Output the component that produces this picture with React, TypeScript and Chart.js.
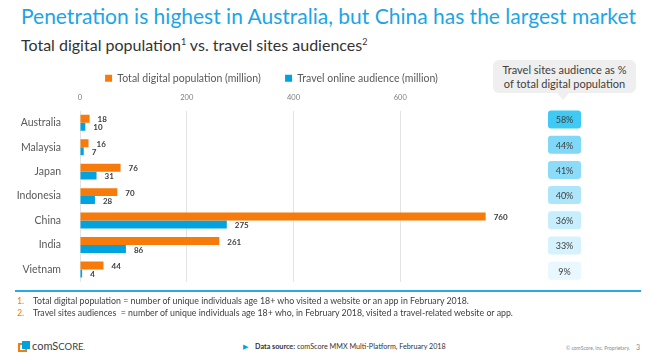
import React, { useEffect, useRef } from "react";
import { Chart, registerables } from "chart.js";

Chart.register(...registerables);

const countries = ["Australia", "Malaysia", "Japan", "Indonesia", "China", "India", "Vietnam"];
const totalDigital = [18, 16, 76, 70, 760, 261, 44];
const travelAudience = [10, 7, 31, 28, 275, 86, 4];
const penetrationLabels = ["58%", "44%", "41%", "40%", "36%", "33%", "9%"];
const penetrationColors = ["#3fcaf6", "#7fd8f8", "#8cdcf9", "#ade6fb", "#c6eefc", "#d6f2fd", "#e8f8fe"];
const xTickValues = [0, 200, 400, 600];

const FONT = "Lato, 'Liberation Sans', sans-serif";
const ORANGE = "#f77b0b";
const BLUE = "#00a2df";

const valueLabelPlugin = {
  id: "valueLabels",
  afterDatasetsDraw(chart: any) {
    const ctx = chart.ctx;
    ctx.save();
    ctx.font = `bold 8px ${FONT}`;
    ctx.fillStyle = "#404040";
    ctx.textBaseline = "middle";
    ctx.textAlign = "left";
    chart.data.datasets.forEach((ds: any, di: number) => {
      const meta = chart.getDatasetMeta(di);
      meta.data.forEach((bar: any, i: number) => {
        ctx.fillText(String(ds.data[i]), bar.x + 8, bar.y + 1);
      });
    });
    ctx.restore();
  },
};

const legendShiftPlugin = {
  id: "legendShift",
  afterLayout(chart: any) {
    if (chart.legend) {
      chart.legend.left -= 14;
      chart.legend.right -= 14;
      chart.legend.top += 8;
      chart.legend.bottom += 8;
    }
  },
};

const pctPlugin = {
  id: "pctBoxes",
  afterDraw(chart: any) {
    const ctx = chart.ctx;
    const yScale = chart.scales.y;
    ctx.save();
    penetrationLabels.forEach((lbl, i) => {
      const cy = yScale.getPixelForValue((i - 3) * 1.03 + 3) - 1;
      const x = 548, w = 33, h = 18;
      ctx.fillStyle = penetrationColors[i];
      ctx.beginPath();
      (ctx as any).roundRect(x, cy - h / 2, w, h, 3);
      ctx.fill();
      ctx.fillStyle = "#404040";
      ctx.font = `9px ${FONT}`;
      ctx.textAlign = "center";
      ctx.textBaseline = "middle";
      ctx.fillText(lbl, x + w / 2, cy + 1);
    });
    ctx.restore();
  },
};

function ChartView() {
  const ref = useRef<HTMLCanvasElement>(null);
  useEffect(() => {
    if (!ref.current) return;
    const chart = new Chart(ref.current, {
      type: "bar",
      data: {
        labels: countries,
        datasets: [
          {
            label: "Total digital population (million)",
            data: totalDigital,
            backgroundColor: ORANGE,
            barPercentage: 1,
            categoryPercentage: 0.65,
          },
          {
            label: "Travel online audience (million)",
            data: travelAudience,
            backgroundColor: BLUE,
            barPercentage: 1,
            categoryPercentage: 0.65,
          },
        ],
      },
      options: {
        indexAxis: "y",
        animation: false,
        responsive: false,
        maintainAspectRatio: false,
        layout: { padding: { left: 0, right: 160, top: 3, bottom: 2 } },
        plugins: {
          tooltip: { enabled: false },
          legend: {
            position: "top",
            fullSize: false,
            labels: {
              boxWidth: 7,
              boxHeight: 7,
              color: "#595959",
              font: { family: FONT, size: 10.5 },
              padding: 2,
              generateLabels(chart: any) {
                const items = Chart.defaults.plugins.legend.labels.generateLabels(chart);
                items.forEach((it: any, i: number) => {
                  if (i === 0) it.text = it.text + "\u2003\u2003\u2002\u2009";
                });
                return items;
              },
            },
          },
        },
        scales: {
          x: {
            position: "top",
            min: 0,
            max: 770,
            afterBuildTicks(scale: any) {
              scale.ticks = xTickValues.map((v) => ({ value: v }));
            },
            ticks: { color: "#7f7f7f", font: { family: FONT, size: 7.5 }, padding: 8 },
            grid: { color: "#e3e3e3", drawTicks: false },
            border: { display: false },
          },
          y: {
            afterFit(scale: any) {
              scale.width = 80;
            },
            ticks: { color: "#595959", font: { family: FONT, size: 10.5 }, padding: 11 },
            grid: { display: false },
            border: { display: false },
          },
        },
      },
      plugins: [valueLabelPlugin, pctPlugin, legendShiftPlugin],
    } as any);
    return () => chart.destroy();
  }, []);
  return <canvas ref={ref} width={651} height={239} style={{ position: "absolute", left: 0, top: 60, width: 651, height: 239 }} />;
}

export default function App() {
  return (
    <div style={{ position: "absolute", left: 0, top: 0, width: 651, height: 361, background: "#fff", fontFamily: FONT, overflow: "hidden" }}>
      <div style={{ position: "absolute", left: 21, top: 3, fontSize: 21, color: "#1ca5e6", whiteSpace: "nowrap" }}>
        Penetration is highest in Australia, but China has the largest market
      </div>
      <div style={{ position: "absolute", left: 21, top: 35, fontSize: 16, color: "#333", whiteSpace: "nowrap" }}>
        Total digital population<sup style={{ fontSize: 9 }}>1</sup> vs. travel sites audiences<sup style={{ fontSize: 9 }}>2</sup>
      </div>
      <ChartView />
      <div style={{ position: "absolute", left: 493, top: 60, width: 143, height: 33, background: "#efefef", borderRadius: 6, fontSize: 11, color: "#404040", textAlign: "center", lineHeight: "14px", paddingTop: 3, boxSizing: "border-box" }}>
        Travel sites audience as %<br />of total digital population
      </div>
      <div style={{ position: "absolute", left: 557, top: 93, width: 0, height: 0, borderLeft: "6px solid transparent", borderRight: "6px solid transparent", borderTop: "7px solid #efefef" }} />
      <div style={{ position: "absolute", left: 15, top: 290, width: 626, height: 2, background: "#2ba9e1" }} />
      <div style={{ position: "absolute", left: 17, top: 295, fontSize: 8.8, color: "#404040", whiteSpace: "nowrap", lineHeight: "12px" }}>
        <div><span style={{ color: ORANGE, display: "inline-block", width: 16 }}>1.</span>Total digital population = number of unique individuals age 18+ who visited a website or an app in February 2018.</div>
        <div><span style={{ color: ORANGE, display: "inline-block", width: 16 }}>2.</span>Travel sites audiences&nbsp; = number of unique individuals age 18+ who, in February 2018, visited a travel-related website or app.</div>
      </div>
      <div style={{ position: "absolute", left: 18, top: 340, width: 14, height: 14 }}>
        <div style={{ position: "absolute", left: 0, top: 3, width: 9, height: 9, border: "2px solid " + ORANGE, boxSizing: "border-box" }} />
        <div style={{ position: "absolute", left: 4, top: 1, width: 8, height: 8, background: BLUE }} />
      </div>
      <div style={{ position: "absolute", left: 32, top: 339, fontSize: 11, color: "#404040", whiteSpace: "nowrap" }}>
        comS<span style={{ fontSize: 9.5 }}>CORE</span><span style={{ fontSize: 6 }}>.</span>
      </div>
      <div style={{ position: "absolute", left: 243, top: 342, fontSize: 7.2, color: "#333", whiteSpace: "nowrap" }}>
        <span style={{ color: BLUE, marginRight: 7 }}>▶</span><b>Data source:</b> comScore MMX Multi-Platform, February 2018
      </div>
      <div style={{ position: "absolute", left: 566, top: 345, fontSize: 5, color: "#888", whiteSpace: "nowrap" }}>
        © comScore, Inc. Proprietary.
      </div>
      <div style={{ position: "absolute", left: 636, top: 343, fontSize: 7, color: "#888" }}>3</div>
    </div>
  );
}
